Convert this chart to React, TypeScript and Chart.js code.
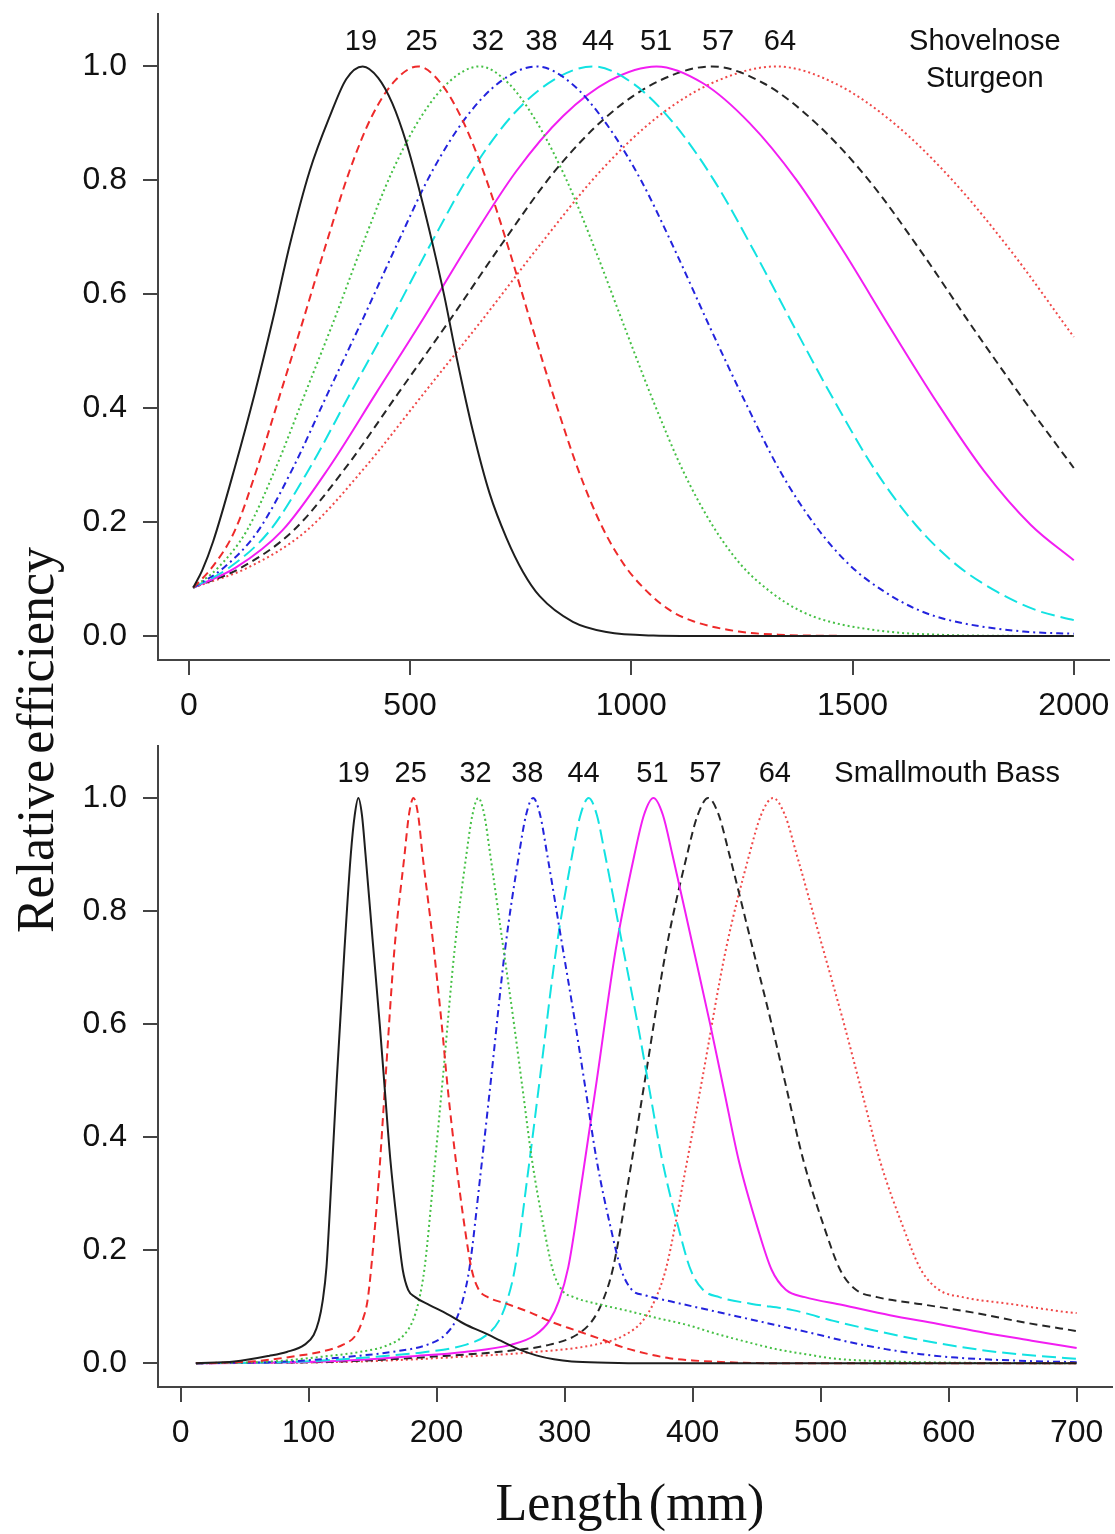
import React, { useEffect, useRef } from 'react';
import { Chart, registerables } from 'chart.js';

Chart.register(...registerables);

// ---------------- data ----------------
const meshSizes = ['19', '25', '32', '38', '44', '51', '57', '64'];

// Shovelnose Sturgeon (top panel): length (mm) and relative efficiency
const sturgeonX19 = [10, 30, 55, 104, 149, 190, 228, 273, 319, 356, 393, 428, 460, 492, 522, 552, 578, 605, 642, 680, 718, 755, 793, 868, 944, 1050, 1200, 2000];
const sturgeonY19 = [0.085, 0.115, 0.166, 0.296, 0.426, 0.556, 0.686, 0.816, 0.913, 0.978, 1.0, 0.98, 0.935, 0.865, 0.78, 0.685, 0.595, 0.49, 0.36, 0.25, 0.172, 0.113, 0.07, 0.025, 0.007, 0.001, 0, 0];
const sturgeonX25 = [10, 52, 104, 155, 207, 259, 311, 363, 414, 466, 518, 570, 622, 673, 725, 777, 829, 881, 932, 984, 1036, 1088, 1140, 1243, 1347, 1450, 1554, 2000];
const sturgeonY25 = [0.085, 0.12, 0.185, 0.296, 0.426, 0.556, 0.69, 0.816, 0.913, 0.975, 1.0, 0.97, 0.90, 0.80, 0.675, 0.54, 0.41, 0.29, 0.195, 0.125, 0.078, 0.045, 0.026, 0.008, 0.002, 0.0005, 0, 0];
const sturgeonX32 = [10, 66, 131, 197, 263, 329, 394, 460, 526, 591, 657, 723, 788, 854, 920, 986, 1051, 1117, 1183, 1248, 1314, 1380, 1445, 1577, 1708, 1840, 2000];
const sturgeonY32 = [0.085, 0.12, 0.185, 0.296, 0.426, 0.556, 0.69, 0.816, 0.913, 0.975, 1.0, 0.97, 0.90, 0.80, 0.675, 0.54, 0.41, 0.29, 0.195, 0.125, 0.078, 0.045, 0.026, 0.008, 0.002, 0.0005, 0];
const sturgeonX38 = [10, 79, 157, 236, 314, 393, 472, 550, 629, 707, 786, 865, 943, 1022, 1100, 1179, 1258, 1336, 1415, 1493, 1572, 1651, 1729, 1886, 2000];
const sturgeonY38 = [0.085, 0.12, 0.185, 0.296, 0.426, 0.556, 0.69, 0.816, 0.913, 0.975, 1.0, 0.97, 0.90, 0.80, 0.675, 0.54, 0.41, 0.29, 0.195, 0.125, 0.078, 0.045, 0.026, 0.008, 0.004];
const sturgeonX44 = [10, 91, 183, 274, 365, 457, 548, 639, 730, 822, 913, 1004, 1096, 1187, 1278, 1370, 1461, 1552, 1643, 1735, 1826, 1917, 2000];
const sturgeonY44 = [0.085, 0.12, 0.185, 0.296, 0.426, 0.556, 0.69, 0.816, 0.913, 0.975, 1.0, 0.97, 0.90, 0.80, 0.675, 0.54, 0.41, 0.29, 0.195, 0.125, 0.078, 0.045, 0.028];
const sturgeonX51 = [10, 106, 211, 317, 423, 529, 634, 740, 846, 951, 1057, 1163, 1268, 1374, 1480, 1586, 1691, 1797, 1903, 2000];
const sturgeonY51 = [0.085, 0.12, 0.185, 0.296, 0.426, 0.556, 0.69, 0.816, 0.913, 0.975, 1.0, 0.97, 0.90, 0.80, 0.675, 0.54, 0.41, 0.29, 0.195, 0.133];
const sturgeonX57 = [10, 118, 236, 355, 473, 591, 709, 827, 946, 1064, 1182, 1300, 1418, 1537, 1655, 1773, 1891, 2000];
const sturgeonY57 = [0.085, 0.12, 0.185, 0.296, 0.426, 0.556, 0.69, 0.816, 0.913, 0.975, 1.0, 0.97, 0.90, 0.80, 0.675, 0.54, 0.41, 0.295];
const sturgeonX64 = [10, 133, 266, 398, 531, 664, 797, 930, 1062, 1195, 1328, 1461, 1594, 1726, 1859, 2000];
const sturgeonY64 = [0.085, 0.12, 0.185, 0.296, 0.426, 0.556, 0.69, 0.816, 0.913, 0.975, 1.0, 0.97, 0.90, 0.80, 0.675, 0.525];

// Smallmouth Bass (bottom panel)
const bassX19 = [12, 42, 69, 83, 97, 104, 108, 111, 114, 118, 122, 128, 133, 136.1, 138.9, 141.7, 144.5, 150, 155.6, 159.7, 163.9, 169.5, 173.6, 177.8, 183.3, 194.5, 208.4, 222.2, 236.1, 250, 263.9, 277.8, 291.7, 305.6, 333.4, 361.1, 700];
const bassY19 = [0, 0.003, 0.013, 0.02, 0.033, 0.05, 0.075, 0.11, 0.17, 0.33, 0.5, 0.73, 0.9, 0.97, 1, 0.97, 0.9, 0.75, 0.6, 0.48, 0.36, 0.24, 0.165, 0.13, 0.117, 0.103, 0.087, 0.069, 0.055, 0.04, 0.025, 0.014, 0.007, 0.003, 0.001, 0, 0];
const bassX25 = [12, 55, 91, 109, 127, 137, 142, 146, 149, 155, 160, 167, 175, 178.4, 182, 185.6, 189, 197, 204, 209, 215, 222, 227.5, 233, 240, 255, 273, 291, 309, 328, 346, 364, 382, 400, 437, 473, 700];
const bassY25 = [0, 0.003, 0.013, 0.02, 0.033, 0.05, 0.075, 0.11, 0.17, 0.33, 0.5, 0.73, 0.9, 0.97, 1, 0.97, 0.9, 0.75, 0.6, 0.48, 0.36, 0.24, 0.165, 0.13, 0.117, 0.105, 0.09, 0.072, 0.058, 0.043, 0.028, 0.017, 0.009, 0.005, 0.001, 0, 0];
const bassX32 = [12, 70, 116, 140, 163, 174.5, 181.4, 186.1, 190.7, 197.7, 204.7, 214, 223.3, 228, 232.6, 237.3, 241.9, 251.2, 260.5, 267.5, 274.5, 283.8, 290.8, 297.7, 307, 325.6, 348.9, 372.2, 395.4, 418.7, 441.9, 465.2, 488.5, 511.7, 558.2, 604.8, 700];
const bassY32 = [0, 0.003, 0.013, 0.02, 0.033, 0.05, 0.075, 0.11, 0.17, 0.33, 0.5, 0.73, 0.9, 0.97, 1, 0.97, 0.9, 0.75, 0.6, 0.48, 0.36, 0.24, 0.165, 0.13, 0.117, 0.105, 0.093, 0.08, 0.068, 0.052, 0.038, 0.025, 0.016, 0.008, 0.003, 0.001, 0];
const bassX38 = [12, 83, 138, 165, 193, 206.6, 214.8, 220.3, 225.8, 234.1, 242.4, 253.4, 264.4, 269.9, 275.4, 280.9, 286.4, 297.4, 308.4, 316.7, 325, 336, 344.3, 352.5, 363.5, 385.6, 413.1, 440.6, 468.2, 495.7, 523.3, 550.8, 578.3, 605.9, 661, 700];
const bassY38 = [0, 0.003, 0.013, 0.02, 0.033, 0.05, 0.075, 0.11, 0.17, 0.33, 0.5, 0.73, 0.9, 0.97, 1, 0.97, 0.9, 0.75, 0.6, 0.48, 0.36, 0.24, 0.165, 0.13, 0.12, 0.108, 0.094, 0.08, 0.066, 0.052, 0.037, 0.025, 0.016, 0.01, 0.004, 0.002];
const bassX44 = [12, 95.6, 159.4, 191.3, 223.2, 239.1, 248.7, 255, 261.4, 271, 280.5, 293.3, 306, 312.4, 318.8, 325.2, 331.6, 344.3, 357.1, 366.6, 376.2, 388.9, 398.5, 408.1, 420.8, 446.3, 478.2, 510.1, 542, 573.8, 605.7, 637.6, 669.5, 700];
const bassY44 = [0, 0.003, 0.013, 0.02, 0.033, 0.05, 0.075, 0.11, 0.17, 0.33, 0.5, 0.73, 0.9, 0.97, 1, 0.97, 0.9, 0.75, 0.6, 0.48, 0.36, 0.24, 0.165, 0.13, 0.117, 0.105, 0.094, 0.075, 0.058, 0.043, 0.03, 0.02, 0.013, 0.008];
const bassX51 = [12, 110.8, 184.7, 221.6, 258.6, 277.1, 288.1, 295.5, 302.9, 314, 325.1, 339.8, 354.6, 362, 369.4, 376.8, 384.2, 399, 413.7, 424.8, 435.9, 450.7, 461.8, 472.8, 487.6, 517.2, 554.1, 591, 628, 664.9, 700];
const bassY51 = [0, 0.003, 0.013, 0.02, 0.033, 0.05, 0.075, 0.11, 0.17, 0.33, 0.5, 0.73, 0.9, 0.97, 1, 0.97, 0.9, 0.75, 0.6, 0.48, 0.36, 0.24, 0.165, 0.13, 0.117, 0.103, 0.085, 0.07, 0.054, 0.04, 0.027];
const bassX57 = [12, 123.7, 206.1, 247.3, 288.5, 309.2, 321.5, 329.8, 338, 350.4, 362.7, 379.2, 395.7, 404, 412.2, 420.4, 428.7, 445.2, 461.7, 474, 486.4, 502.9, 515.3, 527.6, 544.1, 577.1, 618.3, 659.5, 700];
const bassY57 = [0, 0.003, 0.013, 0.02, 0.033, 0.05, 0.075, 0.11, 0.17, 0.33, 0.5, 0.73, 0.9, 0.97, 1, 0.97, 0.9, 0.75, 0.6, 0.48, 0.36, 0.24, 0.165, 0.13, 0.117, 0.105, 0.09, 0.072, 0.057];
const bassX64 = [12, 138.8, 231.4, 277.7, 324, 347.1, 361, 370.2, 379.5, 393.4, 407.3, 425.8, 444.3, 453.5, 462.8, 472.1, 481.3, 499.8, 518.3, 532.2, 546.1, 564.6, 578.5, 592.4, 610.9, 647.9, 694.2, 700];
const bassY64 = [0, 0.003, 0.013, 0.02, 0.033, 0.05, 0.075, 0.11, 0.17, 0.33, 0.5, 0.73, 0.9, 0.97, 1, 0.97, 0.9, 0.75, 0.6, 0.48, 0.36, 0.24, 0.165, 0.13, 0.117, 0.105, 0.09, 0.089];

// tick values
const yTicks = [0, 0.2, 0.4, 0.6, 0.8, 1.0];
const sturgeonXTicks = [0, 500, 1000, 1500, 2000];
const bassXTicks = [0, 100, 200, 300, 400, 500, 600, 700];

// text annotations (data coordinates of label centres / baselines)
const sturgeonLabelX = [389, 526, 676, 797, 925, 1056, 1196, 1336];
const bassLabelX = [135.3, 179.8, 230.5, 270.9, 314.8, 368.6, 410, 464.2];

// ---------------- styles ----------------
const seriesStyles = [
  { color: '#1e1e1e', dash: [] as number[] },
  { color: '#ee2a2a', dash: [8, 5] },
  { color: '#45c045', dash: [2, 3] },
  { color: '#2323dd', dash: [7, 4, 2, 4] },
  { color: '#12e2e2', dash: [14, 6] },
  { color: '#f21ef2', dash: [] as number[] },
  { color: '#262626', dash: [8, 5] },
  { color: '#f04848', dash: [2, 3] },
];

const SANS = '"Liberation Sans", Arial, Helvetica, sans-serif';
const SERIF = '"Liberation Serif", "Times New Roman", Times, serif';
const AXIS_COLOR = '#444';

type PanelOpts = {
  xs: number[][];
  ys: number[][];
  xMin: number;
  xMax: number;
  xTicks: number[];
  padTop: number;
  padRight: number;
  xAxisHeight: number;
  labels: { text: string; x: number; y: number }[];
};

function buildConfig(p: PanelOpts): any {
  const datasets = p.xs.map((xArr, i) => ({
    label: meshSizes[i],
    data: xArr.map((x, j) => ({ x, y: p.ys[i][j] })),
    borderColor: seriesStyles[i].color,
    borderDash: seriesStyles[i].dash,
    borderWidth: 2,
    pointRadius: 0,
    pointHoverRadius: 0,
    fill: false,
    cubicInterpolationMode: 'monotone',
  }));

  const textPlugin = {
    id: 'panelText',
    afterDatasetsDraw(chart: any) {
      const ctx = chart.ctx;
      const xs = chart.scales.x;
      const ys = chart.scales.y;
      ctx.save();
      ctx.fillStyle = '#111';
      ctx.font = `29px ${SANS}`;
      ctx.textAlign = 'center';
      ctx.textBaseline = 'alphabetic';
      p.labels.forEach((l) => {
        ctx.fillText(l.text, xs.getPixelForValue(l.x), ys.getPixelForValue(l.y));
      });
      ctx.restore();
    },
  };

  return {
    type: 'line',
    data: { datasets },
    options: {
      responsive: false,
      maintainAspectRatio: false,
      animation: false,
      devicePixelRatio: 1,
      layout: { padding: { top: p.padTop, right: p.padRight, left: 0, bottom: 0 } },
      plugins: {
        legend: { display: false },
        tooltip: { enabled: false },
        title: { display: false },
      },
      scales: {
        x: {
          type: 'linear',
          min: p.xMin,
          max: p.xMax,
          afterBuildTicks: (s: any) => {
            s.ticks = p.xTicks.map((v) => ({ value: v }));
          },
          afterFit: (s: any) => {
            s.height = p.xAxisHeight;
            s.paddingLeft = 0;
            s.paddingRight = 0;
          },
          ticks: {
            autoSkip: false,
            maxRotation: 0,
            minRotation: 0,
            padding: 12,
            color: '#111',
            font: { family: SANS, size: 32 },
            callback: (v: any) => String(v),
          },
          grid: {
            drawOnChartArea: false,
            drawTicks: true,
            tickLength: 15,
            color: AXIS_COLOR,
            lineWidth: 2,
          },
          border: { display: true, color: AXIS_COLOR, width: 2 },
        },
        y: {
          type: 'linear',
          min: -0.042,
          max: 1.092,
          afterBuildTicks: (s: any) => {
            s.ticks = yTicks.map((v) => ({ value: v }));
          },
          afterFit: (s: any) => {
            s.width = 158;
            s.paddingTop = 0;
            s.paddingBottom = 0;
          },
          ticks: {
            autoSkip: false,
            padding: 16,
            color: '#111',
            font: { family: SANS, size: 32 },
            callback: (v: any) => Number(v).toFixed(1),
          },
          grid: {
            drawOnChartArea: false,
            drawTicks: true,
            tickLength: 15,
            color: AXIS_COLOR,
            lineWidth: 2,
          },
          border: { display: true, color: AXIS_COLOR, width: 2 },
        },
      },
    },
    plugins: [textPlugin],
  };
}

function Panel(props: { opts: PanelOpts; top: number; height: number }) {
  const ref = useRef<HTMLCanvasElement | null>(null);
  useEffect(() => {
    if (!ref.current) return;
    const chart = new Chart(ref.current, buildConfig(props.opts));
    return () => chart.destroy();
  }, []);
  return (
    <canvas
      ref={ref}
      width={1115}
      height={props.height}
      style={{ position: 'absolute', left: 0, top: props.top, width: 1115, height: props.height }}
    />
  );
}

const sturgeonOpts: PanelOpts = {
  xs: [sturgeonX19, sturgeonX25, sturgeonX32, sturgeonX38, sturgeonX44, sturgeonX51, sturgeonX57, sturgeonX64],
  ys: [sturgeonY19, sturgeonY25, sturgeonY32, sturgeonY38, sturgeonY44, sturgeonY51, sturgeonY57, sturgeonY64],
  xMin: -69.6,
  xMax: 2079.6,
  xTicks: sturgeonXTicks,
  padTop: 14,
  padRight: 6,
  xAxisHeight: 70,
  labels: [
    ...meshSizes.map((m, i) => ({ text: m, x: sturgeonLabelX[i], y: 1.028 })),
    { text: 'Shovelnose', x: 1799, y: 1.028 },
    { text: 'Sturgeon', x: 1799, y: 0.963 },
  ],
};

const bassOpts: PanelOpts = {
  xs: [bassX19, bassX25, bassX32, bassX38, bassX44, bassX51, bassX57, bassX64],
  ys: [bassY19, bassY25, bassY32, bassY38, bassY44, bassY51, bassY57, bassY64],
  xMin: -17.6,
  xMax: 727.6,
  xTicks: bassXTicks,
  padTop: 16,
  padRight: 3,
  xAxisHeight: 73,
  labels: [
    ...meshSizes.map((m, i) => ({ text: m, x: bassLabelX[i], y: 1.028 })),
    { text: 'Smallmouth Bass', x: 598.8, y: 1.028 },
  ],
};

export default function App() {
  return (
    <div
      style={{
        position: 'absolute',
        left: 0,
        top: 0,
        width: 1115,
        height: 1534,
        background: '#fff',
        overflow: 'hidden',
      }}
    >
      <Panel opts={sturgeonOpts} top={0} height={730} />
      <Panel opts={bassOpts} top={730} height={730} />
      <div
        style={{
          position: 'absolute',
          left: 35.5 - 220,
          top: 740 - 26,
          width: 440,
          height: 52,
          lineHeight: '52px',
          fontFamily: SERIF,
          fontSize: 52,
          wordSpacing: -7,
          color: '#111',
          textAlign: 'center',
          whiteSpace: 'nowrap',
          transform: 'rotate(-90deg)',
          transformOrigin: '50% 50%',
        }}
      >
        Relative efficiency
      </div>
      <div
        style={{
          position: 'absolute',
          left: 630 - 220,
          top: 1476.5,
          width: 440,
          height: 52,
          lineHeight: '52px',
          fontFamily: SERIF,
          fontSize: 52,
          wordSpacing: -7,
          color: '#111',
          textAlign: 'center',
          whiteSpace: 'nowrap',
        }}
      >
        Length (mm)
      </div>
    </div>
  );
}
